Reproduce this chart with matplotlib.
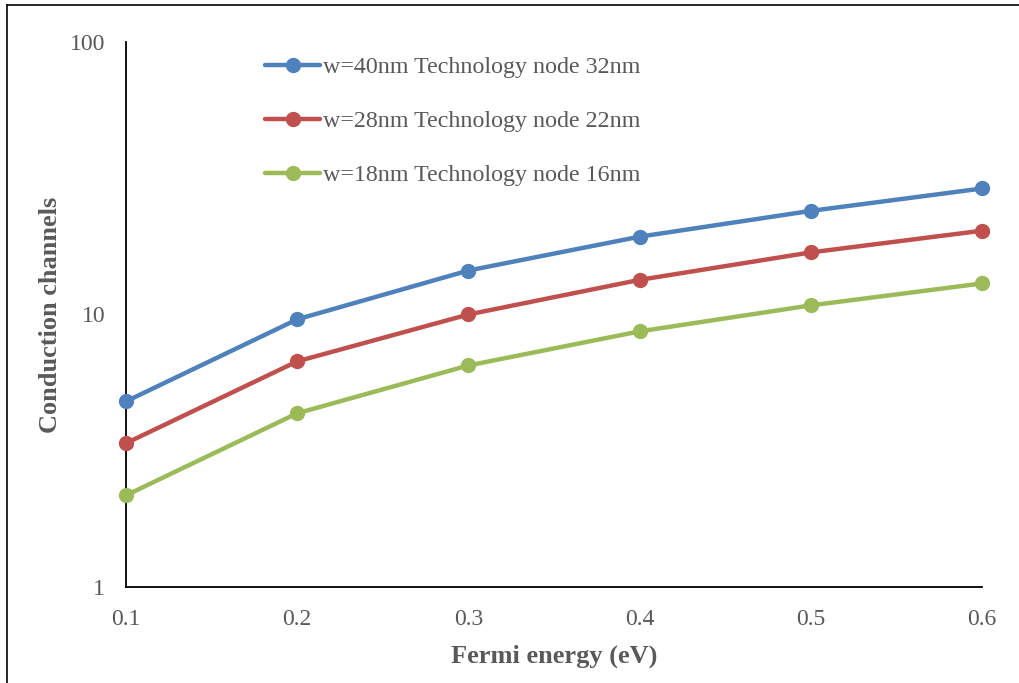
import matplotlib.pyplot as plt
from matplotlib.lines import Line2D
from matplotlib.ticker import FixedLocator, NullLocator

fermi_energy = [0.1, 0.2, 0.3, 0.4, 0.5, 0.6]
channels_w40 = [4.8, 9.6, 14.5, 19.3, 24.0, 29.0]
channels_w28 = [3.37, 6.73, 10.0, 13.4, 16.9, 20.3]
channels_w18 = [2.17, 4.34, 6.5, 8.67, 10.8, 13.0]

labels = [
    "w=40nm Technology node 32nm",
    "w=28nm Technology node 22nm",
    "w=18nm Technology node 16nm",
]
colours = ["#4F81BD", "#C0504D", "#9BBB59"]
x_ticks = [0.1, 0.2, 0.3, 0.4, 0.5, 0.6]
y_ticks = [1, 10, 100]

plt.rcParams["font.family"] = ["Liberation Serif", "DejaVu Serif"]
text_grey = "#595959"

fig = plt.figure(figsize=(10.19, 6.83), dpi=100)
ax = fig.add_axes([0.1237, 0.1406, 0.84, 0.7979])

for ys, label, colour in zip([channels_w40, channels_w28, channels_w18], labels, colours):
    ax.plot(fermi_energy, ys, "o-", color=colour, linewidth=3.2, markersize=10,
            label=label, solid_capstyle="round", clip_on=False, zorder=3)

ax.set_yscale("log")
ax.set_xlim(0.1, 0.6)
ax.set_ylim(1, 100)
ax.xaxis.set_major_locator(FixedLocator(x_ticks))
ax.yaxis.set_major_locator(FixedLocator(y_ticks))
ax.yaxis.set_minor_locator(NullLocator())
ax.set_xticklabels([f"{v:g}" for v in x_ticks])
ax.set_yticklabels([f"{v:g}" for v in y_ticks])
ax.tick_params(length=0, labelsize=17, colors=text_grey)
ax.tick_params(axis="x", pad=16)
ax.tick_params(axis="y", pad=15)

for side in ["top", "right"]:
    ax.spines[side].set_visible(False)
for side in ["left", "bottom"]:
    ax.spines[side].set_color("black")
    ax.spines[side].set_linewidth(1.3)

ax.set_xlabel("Fermi energy (eV)", fontsize=19, fontweight="bold", color=text_grey, labelpad=10)
ax.set_ylabel("Conduction channels", fontsize=19, fontweight="bold", color=text_grey)
ax.yaxis.set_label_coords(-0.075, 0.5)

leg = ax.legend(loc="upper left", bbox_to_anchor=(0.137, 1.013), frameon=False,
                fontsize=17.3, labelspacing=1.34, handlelength=2.3, handletextpad=0.1)
for txt in leg.get_texts():
    txt.set_color(text_grey)

# outer frame: top and left edges only
fig.add_artist(Line2D([0.007, 1.0], [0.993, 0.993], transform=fig.transFigure,
                      color="black", linewidth=1.2))
fig.add_artist(Line2D([0.007, 0.007], [0.0, 0.993], transform=fig.transFigure,
                      color="black", linewidth=1.2))

fig.savefig("out.png", dpi=100)
